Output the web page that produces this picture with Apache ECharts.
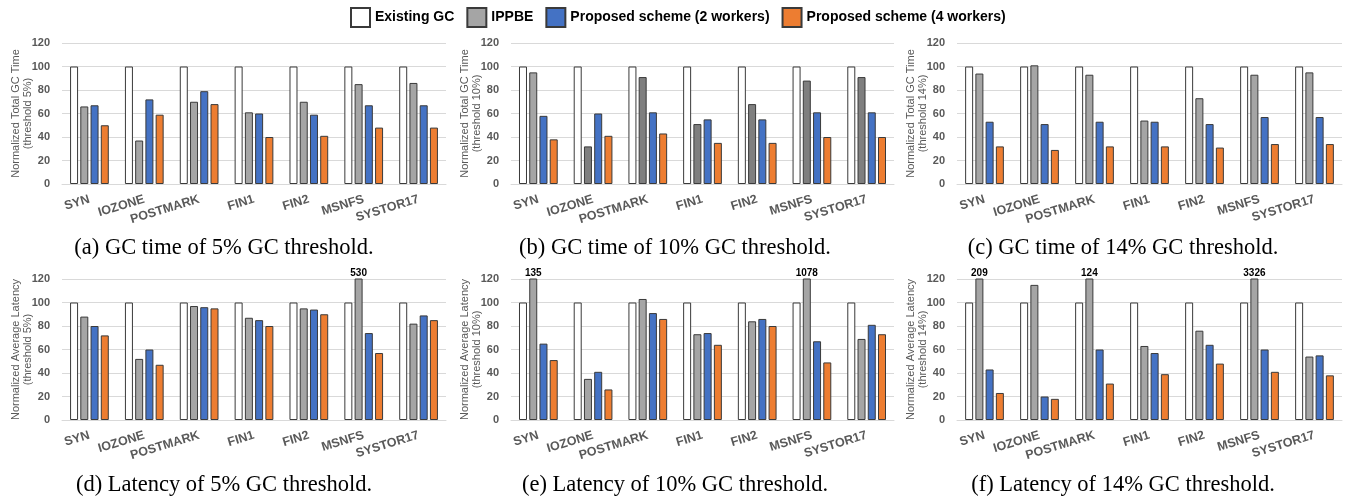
<!DOCTYPE html>
<html>
<head>
<meta charset="utf-8">
<style>
  html, body { margin: 0; padding: 0; background: #fff; }
  #chart { width: 1349px; height: 501px; }
</style>
<script src="https://cdn.jsdelivr.net/npm/echarts@6/dist/echarts.min.js"></script>
</head>
<body>
<div id="chart"></div>
<script>
// workloads on every x axis
const categories = ["SYN", "IOZONE", "POSTMARK", "FIN1", "FIN2", "MSNFS", "SYSTOR17"];
const seriesNames = ["Existing GC", "IPPBE", "Proposed scheme (2 workers)", "Proposed scheme (4 workers)"];
const yMax = 120;
const yStep = 20;

// baseline is always 100 (normalized)
const existingGC = [100, 100, 100, 100, 100, 100, 100];

// total GC time
const gc5Ippbe = [66, 37, 70, 61, 70, 85, 86];
const gc5W2 = [67, 72, 79, 60, 59, 67, 67];
const gc5W4 = [50, 59, 68, 40, 41, 48, 48];

const gc10Ippbe = [95, 32, 91, 51, 68, 88, 91];
const gc10W2 = [58, 60, 61, 55, 55, 61, 61];
const gc10W4 = [38, 41, 43, 35, 35, 40, 40];

const gc14Ippbe = [94, 101, 93, 54, 73, 93, 95];
const gc14W2 = [53, 51, 53, 53, 51, 57, 57];
const gc14W4 = [32, 29, 32, 32, 31, 34, 34];

// average latency (values over 120 are cut off and labelled)
const lat5Ippbe = [88, 52, 97, 87, 95, 530, 82];
const lat5W2 = [80, 60, 96, 85, 94, 74, 89];
const lat5W4 = [72, 47, 95, 80, 90, 57, 85];

const lat10Ippbe = [135, 35, 103, 73, 84, 1078, 69];
const lat10W2 = [65, 41, 91, 74, 86, 67, 81];
const lat10W4 = [51, 26, 86, 64, 80, 49, 73];

const lat14Ippbe = [209, 115, 124, 63, 76, 3326, 54];
const lat14W2 = [43, 20, 60, 57, 64, 60, 55];
const lat14W4 = [23, 18, 31, 39, 48, 41, 38];

const colors = ["#ffffff", "#a5a5a5", "#4472c4", "#ed7d31"];
const darkGray = "#7f7f7f";

const panels = [
  { data: [existingGC, gc5Ippbe, gc5W2, gc5W4], name: "Normalized Total GC Time\n(threshold 5%)",
    caption: "(a) GC time of 5% GC threshold.", dark: false },
  { data: [existingGC, gc10Ippbe, gc10W2, gc10W4], name: "Normalized Total GC Time\n(threshold 10%)",
    caption: "(b) GC time of 10% GC threshold.", dark: true },
  { data: [existingGC, gc14Ippbe, gc14W2, gc14W4], name: "Normalized Total GC Time\n(threshold 14%)",
    caption: "(c) GC time of 14% GC threshold.", dark: false },
  { data: [existingGC, lat5Ippbe, lat5W2, lat5W4], name: "Normalized Average Latency\n(threshold 5%)",
    caption: "(d) Latency of 5% GC threshold.", dark: false },
  { data: [existingGC, lat10Ippbe, lat10W2, lat10W4], name: "Normalized Average Latency\n(threshold 10%)",
    caption: "(e) Latency of 10% GC threshold.", dark: false },
  { data: [existingGC, lat14Ippbe, lat14W2, lat14W4], name: "Normalized Average Latency\n(threshold 14%)",
    caption: "(f) Latency of 14% GC threshold.", dark: false },
];

const colLeft = [62, 511, 957];
const colWidth = [384, 383, 385];
const colCenter = [224, 675, 1123];
const rowTop = [43, 279];
const captionY = [248, 485];
const sans = "Liberation Sans, Arial, sans-serif";

const chart = echarts.init(document.getElementById("chart"));

const grid = [], xAxis = [], yAxis = [], series = [], graphic = [];

panels.forEach((p, i) => {
  const col = i % 3, row = Math.floor(i / 3);
  grid.push({ left: colLeft[col], top: rowTop[row], width: colWidth[col], height: 141 });
  xAxis.push({
    gridIndex: i, type: "category", data: categories,
    axisLine: { lineStyle: { color: "#d9d9d9" } },
    axisTick: { show: false },
    axisLabel: { rotate: 17, margin: 15, color: "#595959", fontWeight: "bold",
      fontSize: 12.5, fontFamily: sans, interval: 0 },
  });
  yAxis.push({
    gridIndex: i, type: "value", min: 0, max: yMax, interval: yStep,
    name: p.name, nameLocation: "middle", nameGap: 28, nameMoveOverlap: false,
    nameTextStyle: { color: "#595959", fontSize: 11, fontFamily: sans, lineHeight: 12 },
    axisLine: { show: false }, axisTick: { show: false },
    axisLabel: { color: "#595959", fontWeight: "bold", fontSize: 11, fontFamily: sans, margin: 12 },
    splitLine: { lineStyle: { color: "#d9d9d9" } },
  });
  p.data.forEach((arr, s) => {
    series.push({
      name: seriesNames[s], type: "bar", xAxisIndex: i, yAxisIndex: i,
      barWidth: 8, barGap: "28%", clip: true,
      itemStyle: { color: colors[s], borderColor: "#3a3a3a", borderWidth: 1 },
      data: arr.map((v, k) => {
        const item = { value: v };
        if (s === 1 && p.dark && k > 0) item.itemStyle = { color: darkGray };
        if (v > yMax) item.label = { show: true };
        return item;
      }),
      label: { show: false, position: "top", distance: 0, color: "#000",
        fontWeight: "bold", fontSize: 10, fontFamily: sans },
      animation: false,
    });
  });
  graphic.push({
    type: "text", x: colCenter[col], y: captionY[row],
    style: { text: p.caption, fill: "#000", font: "22.5px 'Liberation Serif', 'Times New Roman', serif",
      align: "center", verticalAlign: "middle" },
  });
});

chart.setOption({
  backgroundColor: "#fff",
  animation: false,
  legend: {
    data: seriesNames, left: 345, top: 2, itemWidth: 19, itemHeight: 19, itemGap: 12,
    icon: "rect",
    textStyle: { color: "#000", fontWeight: "bold", fontSize: 14, fontFamily: sans },
  },
  grid, xAxis, yAxis, series, graphic,
});
</script>
</body>
</html>
